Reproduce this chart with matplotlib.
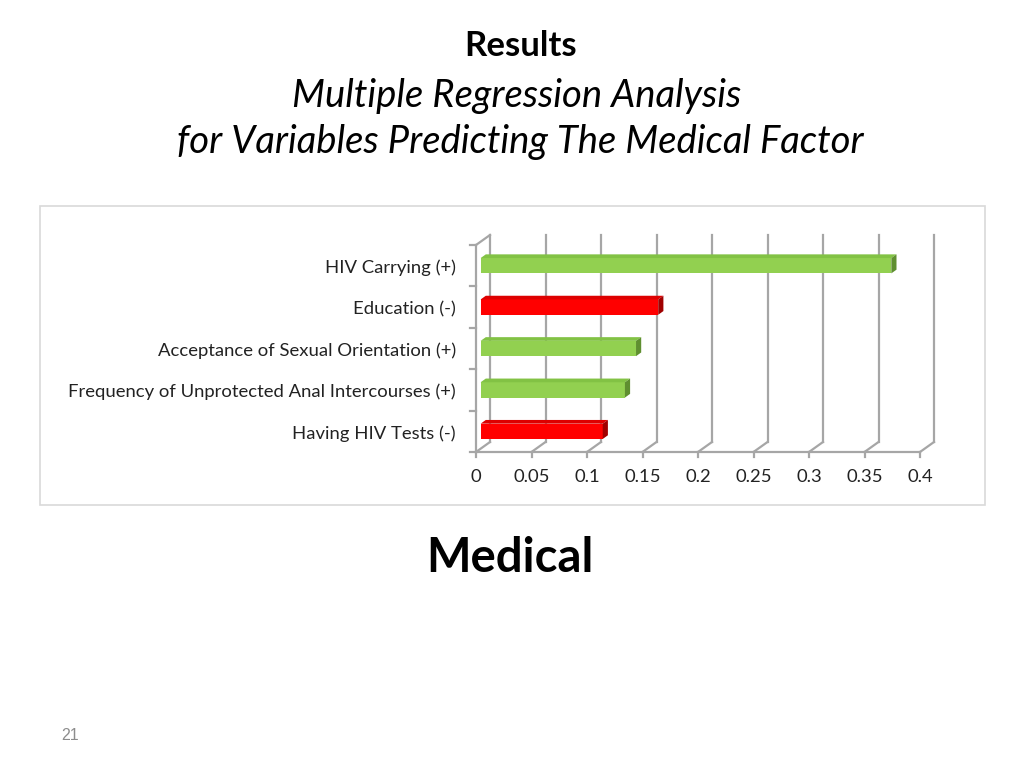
import matplotlib
matplotlib.use("Agg")
import matplotlib.pyplot as plt
from matplotlib.patches import Polygon, Rectangle

categories = ["Having HIV Tests (-)",
              "Frequency of Unprotected Anal Intercourses (+)",
              "Acceptance of Sexual Orientation (+)",
              "Education (-)",
              "HIV Carrying (+)"]
values = [0.11, 0.13, 0.14, 0.16, 0.37]
signs = ["-", "+", "+", "-", "+"]
xticks = [0, 0.05, 0.1, 0.15, 0.2, 0.25, 0.3, 0.35, 0.4]
xticklabels = ["0", "0.05", "0.1", "0.15", "0.2", "0.25", "0.3", "0.35", "0.4"]

FONT = ["Lato", "DejaVu Sans"]
W, H = 1024, 768
fig = plt.figure(figsize=(W / 100, H / 100), dpi=100)
fig.patch.set_facecolor("white")

def fx(px):
    return px / W

def fy(py):
    return 1 - py / H

# Titles
fig.text(fx(521), fy(46), "Results", ha="center", va="center", fontsize=25,
         fontweight="bold", family=FONT)
fig.text(fx(517), fy(96), "Multiple Regression Analysis", ha="center", va="center",
         fontsize=27.5, style="italic", family=FONT)
fig.text(fx(520), fy(142), "for Variables Predicting The Medical Factor", ha="center",
         va="center", fontsize=27.5, style="italic", family=FONT)
fig.text(fx(510), fy(558), "Medical", ha="center", va="center", fontsize=34,
         fontweight="bold", family=FONT)
fig.text(fx(70), fy(735), "21", ha="center", va="center", fontsize=11.5,
         color="#8c8c8c", family=["Liberation Sans", "DejaVu Sans"])

# Chart frame
fig.patches.append(Rectangle((fx(40), fy(505)), fx(945), (505 - 206) / H,
                             transform=fig.transFigure, fill=False,
                             edgecolor="#d9d9d9", linewidth=1.2))

# Axes: front plane
x0px, x1px = 476, 920
ytop, ybot = 245, 452
ax = fig.add_axes([fx(x0px), fy(ybot), (x1px - x0px) / W, (ybot - ytop) / H])
ax.set_xlim(0, 0.4)
ax.set_ylim(-0.5, 4.5)
ax.axis("off")

px_per_x = (x1px - x0px) / 0.4
px_per_y = (ybot - ytop) / 5.0
DX = 14 / px_per_x          # depth offset in data x
DY = 10 / px_per_y          # depth offset in data y
grid_c = "#a6a6a6"
lw = 1.6

# back wall grid lines and floor diagonals
for t in xticks:
    ax.plot([t + DX, t + DX], [-0.5 + DY, 4.5 + DY], color=grid_c, lw=lw,
            clip_on=False, zorder=1)
    ax.plot([t, t + DX], [-0.5, -0.5 + DY], color=grid_c, lw=lw, clip_on=False, zorder=1)
# floor front line
ax.plot([0, 0.4], [-0.5, -0.5], color=grid_c, lw=lw, clip_on=False, zorder=1)
# left wall
ax.plot([0, 0], [-0.5, 4.5], color=grid_c, lw=lw, clip_on=False, zorder=1)
ax.plot([0, DX], [4.5, 4.5 + DY], color=grid_c, lw=lw, clip_on=False, zorder=1)
# y ticks
for k in range(6):
    yy = -0.5 + k
    ax.plot([-6 / px_per_x, 0], [yy, yy], color=grid_c, lw=lw, clip_on=False, zorder=1)
# x ticks
for t in xticks:
    ax.plot([t, t], [-0.5, -0.5 - 5 / px_per_y], color=grid_c, lw=lw, clip_on=False, zorder=1)

# tick labels
for t, lab in zip(xticks, xticklabels):
    ax.text(t, -0.5 - 25 / px_per_y, lab, ha="center", va="center", fontsize=13.3,
            family=FONT, color="#222222", clip_on=False)
for i, c in enumerate(categories):
    ax.text(-20 / px_per_x, i - 0.05, c, ha="right", va="center", fontsize=13.3,
            family=FONT, color="#222222", clip_on=False)

# bars (3D style)
colors = {"+": ("#92d050", "#82c244", "#5f8f30"),
          "-": ("#ff0000", "#dd0000", "#a00000")}
f1, f2 = 0.33, 0.70
h = 0.37
for i, (v, s) in enumerate(zip(values, signs)):
    front, top, side = colors[s]
    ox1, oy1 = f1 * DX, f1 * DY
    ox2, oy2 = f2 * DX, f2 * DY
    b1, t1 = i - h / 2 + oy1 - 0.08, i + h / 2 + oy1 - 0.08
    # front face
    ax.add_patch(Rectangle((ox1, b1), v, t1 - b1, facecolor=front, edgecolor="none",
                           zorder=3, clip_on=False))
    # top face
    ax.add_patch(Polygon([(ox1, t1), (ox1 + v, t1), (ox2 + v, t1 + oy2 - oy1),
                          (ox2, t1 + oy2 - oy1)], closed=True, facecolor=top,
                         edgecolor="none", zorder=3, clip_on=False))
    # side face
    ax.add_patch(Polygon([(ox1 + v, b1), (ox1 + v, t1), (ox2 + v, t1 + oy2 - oy1),
                          (ox2 + v, b1 + oy2 - oy1)], closed=True, facecolor=side,
                         edgecolor="none", zorder=3, clip_on=False))

fig.savefig("out.png", dpi=100, facecolor="white")
